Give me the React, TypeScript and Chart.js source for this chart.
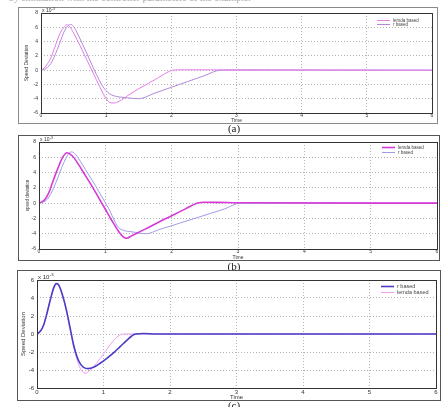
import React, { useEffect, useRef } from "react";
import { Chart, registerables } from "chart.js";
Chart.register(...registerables);

// ---------- text ----------
const timeTicks = [0, 1, 2, 3, 4, 5, 6];
const captions = ["(a)", "(b)", "(c)"];
const yTitles = ["Speed Deviation", "speed deviation", "Speed Deviation"];
const xTitle = "Time";
const scaleNote = "x 10";
const scaleExp = "-3";
const lemdaLabel = "lemda based";
const rLabel = "r based";
const topText = "by simulation with the controller parameters of the example.";

// ---------- data (values in units of 1e-3) ----------
// (a)
const aLemdaT = [0, 0.05, 0.1, 0.15, 0.2, 0.25, 0.3, 0.35, 0.39, 0.44, 0.5, 0.6, 0.7, 0.8, 0.9, 1.0, 1.06, 1.12, 1.2, 1.35, 1.5, 1.65, 1.8, 1.95, 2.02, 2.2, 2.6, 3.0, 6];
const aLemdaV = [0, 0.3, 0.9, 1.7, 2.9, 4.2, 5.3, 6.0, 6.35, 6.1, 5.2, 3.4, 1.5, -0.4, -2.3, -4.0, -4.55, -4.6, -4.35, -3.45, -2.6, -1.85, -1.05, -0.25, 0, 0.05, 0.05, 0, 0];
const aRT = [0, 0.05, 0.1, 0.15, 0.2, 0.25, 0.3, 0.35, 0.4, 0.45, 0.5, 0.55, 0.65, 0.75, 0.85, 0.95, 1.05, 1.12, 1.2, 1.3, 1.4, 1.5, 1.75, 2.0, 2.25, 2.5, 2.75, 3.0, 6];
const aRV = [0, 0.1, 0.4, 0.9, 1.8, 2.9, 4.1, 5.3, 6.1, 6.4, 6.1, 5.3, 3.4, 1.4, -0.6, -2.3, -3.3, -3.6, -3.75, -3.85, -3.95, -4.0, -3.2, -2.4, -1.6, -0.8, 0, 0.05, 0];
// (b)
const bLemdaT = [0, 0.05, 0.1, 0.15, 0.2, 0.25, 0.3, 0.35, 0.42, 0.5, 0.6, 0.7, 0.8, 0.9, 1.0, 1.1, 1.2, 1.27, 1.32, 1.4, 1.6, 1.8, 2.0, 2.2, 2.38, 2.5, 2.7, 3.0, 6];
const bLemdaV = [0, 0.2, 0.6, 1.4, 2.6, 3.8, 4.9, 5.9, 6.6, 6.2, 5.0, 3.6, 2.2, 0.7, -0.8, -2.3, -3.7, -4.4, -4.6, -4.25, -3.4, -2.5, -1.65, -0.78, 0, 0.12, 0.1, 0.05, 0];
const bRT = [0, 0.05, 0.1, 0.15, 0.2, 0.25, 0.3, 0.35, 0.4, 0.45, 0.49, 0.55, 0.65, 0.75, 0.85, 0.95, 1.05, 1.15, 1.2, 1.27, 1.4, 1.62, 1.8, 2.0, 2.2, 2.4, 2.6, 2.8, 3.03, 3.3, 6];
const bRV = [0, 0.1, 0.3, 0.8, 1.6, 2.6, 3.7, 4.8, 5.8, 6.5, 6.7, 6.4, 5.1, 3.7, 2.3, 0.8, -0.7, -2.5, -3.2, -3.55, -3.75, -4.0, -3.5, -2.95, -2.4, -1.85, -1.3, -0.75, 0, 0, 0];
// (c)
const cRT = [0, 0.05, 0.1, 0.15, 0.2, 0.25, 0.29, 0.33, 0.4, 0.45, 0.5, 0.55, 0.6, 0.65, 0.7, 0.77, 0.85, 0.95, 1.05, 1.15, 1.25, 1.35, 1.42, 1.48, 1.6, 1.8, 6];
const cRV = [0, 0.3, 1.0, 2.3, 3.8, 5.1, 5.6, 5.4, 3.9, 2.4, 0.6, -1.2, -2.5, -3.3, -3.7, -3.85, -3.7, -3.25, -2.7, -2.1, -1.4, -0.7, -0.25, 0, 0.05, 0, 0];
const cLemdaT = [0, 0.05, 0.1, 0.15, 0.2, 0.25, 0.29, 0.33, 0.4, 0.45, 0.5, 0.55, 0.6, 0.65, 0.72, 0.8, 0.9, 1.0, 1.1, 1.2, 1.3, 1.4, 6];
const cLemdaV = [0, 0.3, 1.0, 2.3, 3.8, 5.1, 5.6, 5.4, 3.8, 2.2, 0.4, -1.4, -2.8, -3.8, -4.35, -4.0, -3.2, -2.2, -1.2, -0.35, 0, 0, 0];

const pts = (t: number[], v: number[]) => t.map((x, i) => ({ x, y: v[i] }));

type Series = { label: string; t: number[]; v: number[]; color: string; width: number };
type PanelCfg = {
  fx: number; fy: number; fw: number; fh: number;
  pl: number; pt: number; pr: number; pb: number;
  yMin: number; yMax: number;
  tickSize: number; xTickPad: number; ytickPad: number;
  yTitle: string; yTitleSize: number; yTitlePad: number;
  xTitleSize: number;
  expSize: number;
  legX: number; legY: number; legDy: number; legSize: number;
  caption: string; capY: number;
  frameColor: string;
  series: Series[];
};

const panels: PanelCfg[] = [
  {
    fx: 18, fy: 7, fw: 420, fh: 117,
    pl: 41, pt: 13, pr: 432, pb: 113,
    yMin: -6, yMax: 8, tickSize: 5, xTickPad: 0, ytickPad: 3,
    yTitle: yTitles[0], yTitleSize: 5, yTitlePad: 6, xTitleSize: 5, expSize: 5,
    legX: 359, legY: 13, legDy: 4, legSize: 4.5,
    caption: captions[0], capY: 128, frameColor: "#8a8a8a",
    series: [
      { label: lemdaLabel, t: aLemdaT, v: aLemdaV, color: "#e57ce8", width: 1 },
      { label: rLabel, t: aRT, v: aRV, color: "#b08ad8", width: 1 },
    ],
  },
  {
    fx: 18, fy: 135, fw: 422, fh: 126,
    pl: 39, pt: 142, pr: 437, pb: 249,
    yMin: -6, yMax: 8, tickSize: 5, xTickPad: 0, ytickPad: 3,
    yTitle: yTitles[1], yTitleSize: 4.5, yTitlePad: 7, xTitleSize: 5, expSize: 5,
    legX: 364, legY: 12, legDy: 5, legSize: 4.5,
    caption: captions[1], capY: 266, frameColor: "#555",
    series: [
      { label: lemdaLabel, t: bLemdaT, v: bLemdaV, color: "#d63ad8", width: 1.6 },
      { label: rLabel, t: bRT, v: bRV, color: "#9c9ce8", width: 1 },
    ],
  },
  {
    fx: 17, fy: 270, fw: 424, fh: 131,
    pl: 37, pt: 280, pr: 436, pb: 388,
    yMin: -6, yMax: 6, tickSize: 6, xTickPad: 1, ytickPad: 3,
    yTitle: yTitles[2], yTitleSize: 6, yTitlePad: 2.5, xTitleSize: 6, expSize: 6,
    legX: 364, legY: 16, legDy: 6, legSize: 5.5,
    caption: captions[2], capY: 405, frameColor: "#555",
    series: [
      { label: rLabel, t: cRT, v: cRV, color: "#4a3cc6", width: 1.6 },
      { label: lemdaLabel, t: cLemdaT, v: cLemdaV, color: "#f09cf0", width: 1 },
    ],
  },
];

const FONT = '"Liberation Sans", Arial, sans-serif';

const decor = {
  id: "decor",
  afterDatasetsDraw(chart: any, _args: any, opts: any) {
    const p: PanelCfg = opts.cfg;
    if (!p) return;
    const { ctx, chartArea: ca } = chart;
    ctx.save();
    // axes box
    ctx.strokeStyle = "#333";
    ctx.lineWidth = 1;
    ctx.strokeRect(Math.round(ca.left) + 0.5, Math.round(ca.top) + 0.5, Math.round(ca.right - ca.left), Math.round(ca.bottom - ca.top));
    // exponent note
    ctx.fillStyle = "#333";
    ctx.textBaseline = "alphabetic";
    ctx.textAlign = "left";
    ctx.font = `${p.expSize}px ${FONT}`;
    const nx = ca.left + 1;
    const ny = ca.top - 1;
    ctx.fillText(scaleNote, nx, ny);
    const w = ctx.measureText(scaleNote).width;
    ctx.font = `${p.expSize * 0.7}px ${FONT}`;
    ctx.fillText(scaleExp, nx + w + 0.5, ny - p.expSize * 0.45);
    // legend
    chart.data.datasets.forEach((ds: any, i: number) => {
      const y = p.legY + i * p.legDy;
      ctx.strokeStyle = ds.borderColor;
      ctx.lineWidth = ds.borderWidth;
      ctx.beginPath();
      ctx.moveTo(p.legX, y + 0.5);
      ctx.lineTo(p.legX + 13, y + 0.5);
      ctx.stroke();
      ctx.fillStyle = "#444";
      ctx.font = `${p.legSize}px ${FONT}`;
      ctx.textBaseline = "middle";
      ctx.fillText(ds.label, p.legX + 16, y + 0.5);
    });
    ctx.restore();
  },
};

function Panel({ p }: { p: PanelCfg }) {
  const ref = useRef<HTMLCanvasElement>(null);
  useEffect(() => {
    const yW = p.pl - p.fx;
    const xH = p.fy + p.fh - p.pb;
    const chart = new Chart(ref.current as HTMLCanvasElement, {
      type: "line",
      data: {
        datasets: p.series.map((s) => ({
          label: s.label,
          data: pts(s.t, s.v),
          borderColor: s.color,
          backgroundColor: s.color,
          borderWidth: s.width,
          pointRadius: 0,
          fill: false,
          cubicInterpolationMode: "monotone" as const,
        })),
      },
      options: {
        animation: false,
        responsive: false,
        maintainAspectRatio: false,
        events: [],
        layout: { padding: { left: 0, top: p.pt - p.fy, right: p.fx + p.fw - p.pr, bottom: 0 } },
        plugins: { legend: { display: false }, tooltip: { enabled: false }, decor: { cfg: p } } as any,
        scales: {
          x: {
            type: "linear",
            min: 0,
            max: 6,
            afterBuildTicks: (s: any) => {
              s.ticks = timeTicks.map((v) => ({ value: v }));
            },
            afterFit: (s: any) => {
              s.height = xH;
            },
            ticks: {
              autoSkip: false,
              maxRotation: 0,
              padding: p.xTickPad,
              color: "#333",
              font: { size: p.tickSize, family: FONT },
              callback: (v: any) => String(v),
            },
            grid: { color: "#b4b4b4", lineWidth: 1, drawTicks: false, tickLength: 0 },
            border: { display: false, dash: [1, 2] },
            title: { display: true, text: xTitle, color: "#333", font: { size: p.xTitleSize, family: FONT }, padding: 0 },
          },
          y: {
            type: "linear",
            min: p.yMin,
            max: p.yMax,
            afterFit: (s: any) => {
              s.width = yW;
            },
            ticks: {
              stepSize: 2,
              padding: p.ytickPad,
              color: "#333",
              font: { size: p.tickSize, family: FONT },
              callback: (v: any) => String(v),
            },
            grid: { color: "#b4b4b4", lineWidth: 1, drawTicks: false, tickLength: 0 },
            border: { display: false, dash: [1, 2] },
            title: {
              display: true,
              text: p.yTitle,
              color: "#333",
              font: { size: p.yTitleSize, family: FONT },
              padding: { top: p.yTitlePad, bottom: 0 },
            },
          },
        },
      },
      plugins: [decor],
    });
    return () => chart.destroy();
  }, []);
  return (
    <>
      <div
        style={{
          position: "absolute",
          left: p.fx,
          top: p.fy,
          width: p.fw,
          height: p.fh,
          border: `1px solid ${p.frameColor}`,
          boxSizing: "border-box",
          background: "#fff",
        }}
      />
      <canvas
        ref={ref}
        width={p.fw}
        height={p.fh}
        style={{ position: "absolute", left: p.fx, top: p.fy, width: p.fw, height: p.fh }}
      />
      <div
        style={{
          position: "absolute",
          left: 184,
          width: 100,
          top: p.capY - 7,
          textAlign: "center",
          fontFamily: '"Liberation Serif", serif',
          fontSize: 11,
          lineHeight: "14px",
          color: "#222",
        }}
      >
        {p.caption}
      </div>
    </>
  );
}

export default function App() {
  return (
    <div
      style={{
        position: "fixed",
        left: 0,
        top: 0,
        width: 448,
        height: 407,
        overflow: "hidden",
        background: "#fff",
      }}
    >
      <div
        style={{
          position: "absolute",
          left: 9,
          top: -8,
          fontFamily: '"Liberation Serif", serif',
          fontSize: 10,
          color: "#aaa",
          whiteSpace: "nowrap",
        }}
      >
        {topText}
      </div>
      {panels.map((p, i) => (
        <Panel key={i} p={p} />
      ))}
    </div>
  );
}
